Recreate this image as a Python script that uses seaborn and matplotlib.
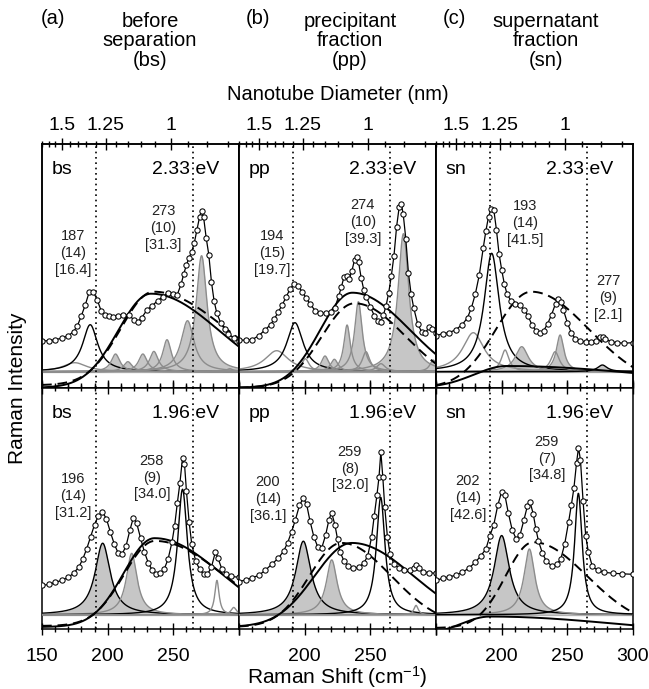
import numpy as np
import matplotlib
matplotlib.use("Agg")
import matplotlib.pyplot as plt
import seaborn as sns
from matplotlib.ticker import FixedLocator

sns.set_theme(style="white")
plt.rcParams["font.family"] = ["Liberation Sans", "DejaVu Sans"]
plt.rcParams.update({
    "mathtext.fontset": "custom",
    "mathtext.rm": "Liberation Sans",
    "mathtext.it": "Liberation Sans:italic",
    "axes.edgecolor": "black",
    "text.color": "black",
    "axes.labelcolor": "black",
    "xtick.color": "black",
    "ytick.color": "black",
})

# ---------------- data (x in cm^-1, intensity in arbitrary units) ----------------
# measured spectra
A1_X = [150,155,160,165,170,174,177,180,183,186,189,192,195,198,201,204,208,212,216,220,223,226,230,234,238,242,246,250,253,256,258,260,262,264,266,268,270,271.5,273,275,277,279,281,283,286,289,292,296,300]
A1_Y = [30.7,31,32,33.5,36,40,46,56,67,80,80,72,61,57,56,55,55.5,57,56.5,52,50,54,62,66,71,75,79,78,77,88,98,107,114,120,129,142,155,161,155,134,117,90,71,59,49,43,38,33.5,30.5]
B1_X = [150,155,160,165,170,174,177,180,183,186,189,192,195,198,201,204,208,212,216,220,223,226,228,230,232,234,236,238,239.5,241,243,245,247,250,253,256,258,260,262,264,266,268,270,272,273.5,275,277,279,281,283,286,289,292,295,297,300]
B1_Y = [31.7,31.5,32,36,42,47,53,60,67,75,83,88,86,80,74,68,61,58.5,58.5,60,64,76,85,95,96,93,101,112,115,110,94,82,75,65,56,51,50,57,66,79,96,116,145,165,168,158,133,99,78,64,48,40,39,45,43,39]
C1_X = [150,155,160,165,170,174,177,180,183,186,188,190,192,194,196,198,200,202,204,207,210,214,217,220,223,226,229,232,235,238,241,243,245,247,250,253,256,260,264,268,272,275,277,279,283,288,293,300]
C1_Y = [36,38,39,42,47,54,64,78,97,124,141,155,163,162,142,118,102,88,78,71,68,67,62,56,47,41,38.4,41,48,57,68,73,70,62,49,39,33,30.5,30,30,31,34.5,35,33,30,29,28.5,29]
A2_X = [150,155,160,165,170,174,178,181,184,187,190,193,196,199,202,205,208,211,214,217,219.5,222,225,228,231,234,237,240,243,246,249,251,253,255,257,258.5,260,262,264,267,270,273,276,279,282,284,287,290,294,300]
A2_Y = [29,30,32,34,37,41,47,55,65,77,89,98,101.5,95,82,70,61,60,68,84,95.7,91,76,62,51,44,40.5,41,45,55,72,88,110,130,155,149,122,92,70,53,45,40,40,47,62,56,45,40,38,37]
B2_X = [150,155,160,165,170,175,180,184,187,190,193,196,199,201.5,204,207,210,213,216,218.5,220.5,223,225,227,230,233,237,241,245,248,251,253,255,256.6,258,259.5,261,263,265,268,272,276,280,283,285,287,290,295,300]
B2_Y = [32.7,34.5,36.5,39,44,50,56,63,71,82,94,108,115.3,109,93,77,67,66,79,94,101,89,75,62,53,48.5,46,47,51,58,77,98,118,136,161,136,106,77,60,50,46,44.3,44,46,49.3,46,42.5,41.5,41]
C2_X = [150,155,160,165,170,175,180,184,188,191,194,197,200,202.5,205,208,211,214,217,219.5,221.5,224,226,228,231,234,238,242,245,248,251,253,255,257,258.5,260,262,264,266,269,273,278,285,292,300]
C2_Y = [34,36,37.5,39,42,46,52,58,65,78,89,108,121.7,118,101,84,75,79,94,107,111.7,100,85,73,61,53,48.5,50,55,70,92,108,125,150,165,153,112,78,62,48,44,42,41,40.5,40]

# fitted Lorentzian components: position, FWHM, height, style
# style: gf = gray fill/gray edge, gk = gray fill/black edge, g = gray line, k = black line
A1_POS = [175, 186.7, 206, 215.4, 226.8, 235.2, 245.2, 260.8, 271.5, 293]
A1_FWHM = [22, 14, 8, 8, 8, 8, 8, 12, 10, 6]
A1_HGT = [9, 47, 17.7, 10, 17.7, 20.3, 32, 51, 116, 3]
A1_KIND = ["g", "k", "gf", "gf", "gf", "gf", "gf", "gf", "gf", "gf"]
B1_POS = [178.7, 192.6, 200.5, 215.5, 222.6, 232.3, 240.9, 246.7, 258.1, 275.2, 297.8]
B1_FWHM = [22, 15, 7, 7, 7, 6, 7, 7, 8, 10, 6]
B1_HGT = [21, 49, 13, 15.7, 12.4, 46.7, 70, 20, 8, 138, 11.7]
B1_KIND = ["g", "k", "g", "gf", "gf", "gf", "gf", "gf", "gf", "gf", "gf"]
C1_POS = [178.4, 192.4, 202.6, 215.3, 240.7, 244.5, 276.7]
C1_FWHM = [20, 14, 7, 12, 8, 7, 9]
C1_HGT = [39, 118.4, 21.7, 25, 20, 36.7, 6.7]
C1_KIND = ["g", "k", "g", "gf", "g", "gf", "gk"]
A2_POS = [196.2, 218.3, 257, 283.2, 296]
A2_FWHM = [14, 10, 9, 4, 5]
A2_HGT = [70.7, 60.7, 124, 34, 7.3]
A2_KIND = ["gk", "gf", "k", "g", "g"]
B2_POS = [199, 220.6, 257.9, 284.8]
B2_FWHM = [14, 10, 8, 4]
B2_HGT = [72.7, 54.3, 116, 9.3]
B2_KIND = ["gk", "gf", "k", "g"]
C2_POS = [200, 221.1, 258.4]
C2_FWHM = [14, 10, 7]
C2_HGT = [78.3, 65, 120]
C2_KIND = ["gk", "gf", "k"]

# broad background bands: centre, peak height, floor, left width, right width
A1_BROAD_SOLID = [233, 78, -16, 25, 52]
A1_BROAD_DASH = [235, 80, -13.5, 25, 55]
B1_BROAD_SOLID = [236.3, 79, -16, 24.5, 44]
B1_BROAD_DASH = [238, 68.4, -16, 25, 39]
C1_BROAD_SOLID = [204, 5.7, -16, 25, 109]
C1_BROAD_DASH = [222.6, 80, -16, 27, 44]
A2_BROAD_SOLID = [235.7, 75.7, -12, 23.5, 50.5]
A2_BROAD_DASH = [236, 73, -11, 23.5, 52]
B2_BROAD_SOLID = [236, 71, -12, 28.5, 47]
B2_BROAD_DASH = [228, 71, -12, 24.4, 38]
C2_BROAD_SOLID = [191, -1.7, -20, 22, 97]
C2_BROAD_DASH = [224, 71.7, -13, 21, 41]

# text
TAGS = ["bs", "pp", "sn", "bs", "pp", "sn"]
ENERGIES = ["2.33 eV", "2.33 eV", "2.33 eV", "1.96 eV", "1.96 eV", "1.96 eV"]
A1_NOTES = ["187\n(14)\n[16.4]", "273\n(10)\n[31.3]"]
B1_NOTES = ["194\n(15)\n[19.7]", "274\n(10)\n[39.3]"]
C1_NOTES = ["193\n(14)\n[41.5]", "277\n(9)\n[2.1]"]
A2_NOTES = ["196\n(14)\n[31.2]", "258\n(9)\n[34.0]"]
B2_NOTES = ["200\n(14)\n[36.1]", "259\n(8)\n[32.0]"]
C2_NOTES = ["202\n(14)\n[42.6]", "259\n(7)\n[34.8]"]
HEADER_TAGS = ["(a)", "(b)", "(c)"]
HEADERS = ["before\nseparation\n(bs)", "precipitant\nfraction\n(pp)", "supernatant\nfraction\n(sn)"]
DOTTED_LINES = [191.3, 265.3]
SHIFT_TICKS = [150, 200, 250, 300]
DIAM_MAJOR = [1.5, 1.25, 1.0]
DIAM_MAJOR_LABELS = ["1.5", "1.25", "1"]
DIAM_MINOR = [1.65, 1.6, 1.55, 1.45, 1.4, 1.35, 1.3, 1.2, 1.15, 1.1, 1.05, 0.95, 0.9, 0.85]
RBM_CONST = 248.0  # omega = 248 / d

# ---------------- layout (positions / styles) ----------------
W, H = 649, 689
COL_LEFT = [42, 239, 436]
COL_W = 197
ROW_TOP = [144, 388]
ROW_H = [244, 241]
YLIM = [(-16.3, 227.7), (-14.0, 224.0)]
NOTE_POS = [
    [(0.159, 0.553), (0.616, 0.656)],
    [(0.168, 0.553), (0.629, 0.680)],
    [(0.452, 0.676), (0.873, 0.369)],
    [(0.157, 0.552), (0.558, 0.628)],
    [(0.147, 0.540), (0.563, 0.665)],
    [(0.162, 0.544), (0.563, 0.707)],
]
FILL = "#c6c6c6"
GRAY_EDGE = "#8c8c8c"

panels = [
    (A1_X, A1_Y, A1_POS, A1_FWHM, A1_HGT, A1_KIND, A1_BROAD_SOLID, A1_BROAD_DASH, A1_NOTES),
    (B1_X, B1_Y, B1_POS, B1_FWHM, B1_HGT, B1_KIND, B1_BROAD_SOLID, B1_BROAD_DASH, B1_NOTES),
    (C1_X, C1_Y, C1_POS, C1_FWHM, C1_HGT, C1_KIND, C1_BROAD_SOLID, C1_BROAD_DASH, C1_NOTES),
    (A2_X, A2_Y, A2_POS, A2_FWHM, A2_HGT, A2_KIND, A2_BROAD_SOLID, A2_BROAD_DASH, A2_NOTES),
    (B2_X, B2_Y, B2_POS, B2_FWHM, B2_HGT, B2_KIND, B2_BROAD_SOLID, B2_BROAD_DASH, B2_NOTES),
    (C2_X, C2_Y, C2_POS, C2_FWHM, C2_HGT, C2_KIND, C2_BROAD_SOLID, C2_BROAD_DASH, C2_NOTES),
]


def lorentz(x, c, w, h):
    return h / (1.0 + ((x - c) / (w / 2.0)) ** 2)


def band(x, p):
    c, h, off, sl, sr = p
    s = np.where(x < c, sl, sr)
    return off + (h - off) * np.exp(-0.5 * ((x - c) / s) ** 2)


xs = np.linspace(150, 300, 901)

fig = plt.figure(figsize=(W / 100, H / 100), dpi=100)

for idx, (dx, dy, pos, fwhm, hgt, kind, bsol, bdash, notes) in enumerate(panels):
    r, c = divmod(idx, 3)
    ax = fig.add_axes([COL_LEFT[c] / W, 1 - (ROW_TOP[r] + ROW_H[r]) / H, COL_W / W, ROW_H[r] / H])
    ax.set_facecolor("white")

    # zero line
    ax.axhline(0, color="#9a9a9a", lw=1.6, zorder=1)

    # component fills
    for p, w, h, k in zip(pos, fwhm, hgt, kind):
        yy = lorentz(xs, p, w, h)
        if k in ("gf", "gk"):
            ax.fill_between(xs, 0, yy, color=FILL, lw=0, zorder=2)
    for p, w, h, k in zip(pos, fwhm, hgt, kind):
        yy = lorentz(xs, p, w, h)
        col = "black" if k in ("k", "gk") else GRAY_EDGE
        ax.plot(xs, yy, color=col, lw=1.0, zorder=3)

    # broad bands
    ax.plot(xs, band(xs, bsol), color="black", lw=1.4, zorder=4)
    ax.plot(xs, band(xs, bdash), color="black", lw=1.4, ls=(0, (5, 3)), zorder=4)

    for v in DOTTED_LINES:
        ax.axvline(v, color="black", lw=1.2, ls=(0, (1, 2.2)), zorder=5)

    # measured spectrum
    sns.lineplot(x=dx, y=dy, ax=ax, color="black", lw=0.9, marker="o", markersize=3.8,
                 markerfacecolor="white", markeredgecolor="black", markeredgewidth=0.75,
                 zorder=6, legend=False)

    ax.set_xlim(150, 300)
    ax.set_ylim(*YLIM[r])
    ax.set_ylabel("")
    ax.set_xlabel("")
    ax.set_yticks([])
    ax.set_xticks(SHIFT_TICKS)
    ax.xaxis.set_minor_locator(FixedLocator(list(range(160, 300, 10))))
    for s in ax.spines.values():
        s.set_linewidth(1.1)
        s.set_color("black")

    if r == 0:
        ax.tick_params(axis="x", which="both", direction="in", top=False, bottom=True,
                       labelbottom=False, width=1.0)
        ax.tick_params(axis="x", which="major", length=6)
        ax.tick_params(axis="x", which="minor", length=3.5)
        tw = ax.twiny()
        tw.set_xlim(150, 300)
        tw.set_xticks([RBM_CONST / d for d in DIAM_MAJOR])
        tw.set_xticklabels(DIAM_MAJOR_LABELS, fontsize=14)
        tw.xaxis.set_minor_locator(FixedLocator([RBM_CONST / d for d in DIAM_MINOR]))
        tw.tick_params(axis="x", which="both", direction="inout", width=1.0, pad=3)
        tw.tick_params(axis="x", which="major", length=9)
        tw.tick_params(axis="x", which="minor", length=5)
        tw.set_yticks([])
        for s in tw.spines.values():
            s.set_linewidth(1.1)
    else:
        labels = ["150", "200", "250", "300"]
        if c == 0:
            labels[3] = ""
        elif c == 1:
            labels[0] = ""
            labels[3] = ""
        else:
            labels[0] = ""
        ax.set_xticklabels(labels, fontsize=14)
        ax.tick_params(axis="x", which="both", direction="inout", top=True, bottom=True,
                       width=1.0, pad=9)
        ax.tick_params(axis="x", which="major", length=9)
        ax.tick_params(axis="x", which="minor", length=5)

    # labels inside panel
    ax.text(0.05, 0.895, TAGS[idx], transform=ax.transAxes,
            fontsize=14, ha="left", va="center", zorder=8)
    ax.text(0.90, 0.895, ENERGIES[idx], transform=ax.transAxes,
            fontsize=14, ha="right", va="center", zorder=8)
    for (fx, fy), t in zip(NOTE_POS[idx], notes):
        ax.text(fx, fy, t, transform=ax.transAxes, fontsize=10.5, ha="center",
                va="center", linespacing=1.25, color="#222222", zorder=8)

# headers
HEAD_TAG_X = [53, 258, 454]
HEAD_X = [150, 350, 546]
for tx, t in zip(HEAD_TAG_X, HEADER_TAGS):
    fig.text(tx / W, 1 - 19 / H, t, fontsize=14.5, ha="center", va="center")
for hx, t in zip(HEAD_X, HEADERS):
    fig.text(hx / W, 1 - 41 / H, t, fontsize=14.5, ha="center", va="center", linespacing=1.05)

fig.text(338 / W, 1 - 94 / H, "Nanotube Diameter (nm)", fontsize=14.5, ha="center", va="center")
fig.text(337 / W, 1 - 677 / H, "Raman Shift (cm$^{-1}$)", fontsize=15, ha="center", va="center")
fig.text(18 / W, 1 - 388 / H, "Raman Intensity", fontsize=15, ha="center", va="center",
         rotation=90)

fig.savefig("out.png", dpi=100, facecolor="white")
